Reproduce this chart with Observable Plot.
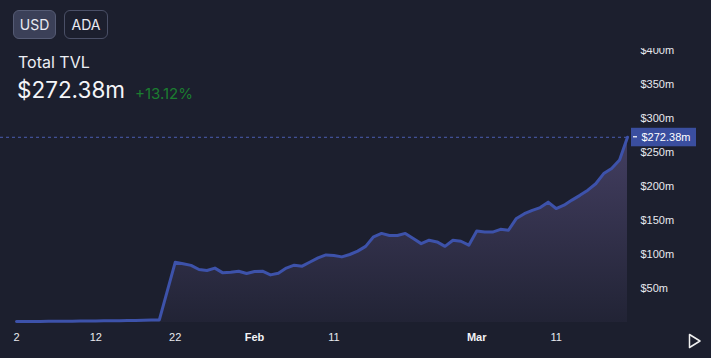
<!DOCTYPE html>
<html>
<head>
<meta charset="utf-8">
<script src="https://cdn.jsdelivr.net/npm/d3@7"></script>
<script src="https://cdn.jsdelivr.net/npm/@observablehq/plot@0.6"></script>
<style>
  html, body { margin: 0; padding: 0; background: #1c1f2e; }
  #wrap { position: relative; width: 711px; height: 358px; overflow: hidden; background: #1c1f2e; font-family: Inter, "Noto Sans", sans-serif; }
  #chart { position: absolute; left: 0; top: 0; }
  .btn { position: absolute; top: 10px; height: 29px; border-radius: 6px; box-sizing: border-box; color: #e9eaf2; font-size: 14px; line-height: 27px; text-align: center; }
  #usd { left: 13px; width: 43px; background: #3b4058; border: 1px solid #555b74; }
  #ada { left: 64px; width: 44px; border: 1px solid #4a4f66; }
  #title { position: absolute; left: 18px; top: 52px; color: #eceef4; font-size: 16px; }
  #value { position: absolute; left: 17px; top: 76px; color: #f4f5f8; font-size: 22.5px; }
  #pct { position: absolute; left: 135px; top: 84px; color: #1b7d30; font-size: 15px; }
  #cover { position: absolute; left: 630px; top: 0; width: 81px; height: 48px; background: #1c1f2e; }
  #play { position: absolute; left: 688px; top: 333px; }
</style>
</head>
<body>
<div id="wrap">
  <div id="chart"></div>
  <div id="cover"></div>
  <div class="btn" id="usd">USD</div>
  <div class="btn" id="ada">ADA</div>
  <div id="title">Total TVL</div>
  <div id="value">$272.38m</div>
  <div id="pct">+13.12%</div>
  <svg id="play" width="14" height="16"><polygon points="1.5,1.5 12,8 1.5,14.5" fill="none" stroke="#f0f0f0" stroke-width="1.5" stroke-linejoin="round"/></svg>
</div>
<script>
// ---- data ----
const dates = [
  "2023-01-02","2023-01-03","2023-01-04","2023-01-05","2023-01-06","2023-01-07","2023-01-08",
  "2023-01-09","2023-01-10","2023-01-11","2023-01-12","2023-01-13","2023-01-14","2023-01-15",
  "2023-01-16","2023-01-17","2023-01-18","2023-01-19","2023-01-20",
  "2023-01-22","2023-01-23","2023-01-24","2023-01-25","2023-01-26","2023-01-27","2023-01-28",
  "2023-01-29","2023-01-30","2023-01-31","2023-02-01","2023-02-02","2023-02-03","2023-02-04",
  "2023-02-05","2023-02-06","2023-02-07","2023-02-08","2023-02-09","2023-02-10","2023-02-11",
  "2023-02-12","2023-02-13","2023-02-14","2023-02-15","2023-02-16","2023-02-17","2023-02-18",
  "2023-02-19","2023-02-20","2023-02-21","2023-02-22","2023-02-23","2023-02-24","2023-02-25",
  "2023-02-26","2023-02-27","2023-02-28","2023-03-01","2023-03-02","2023-03-03","2023-03-04",
  "2023-03-05","2023-03-06","2023-03-07","2023-03-08","2023-03-09","2023-03-10","2023-03-11",
  "2023-03-12","2023-03-13","2023-03-14","2023-03-15","2023-03-16","2023-03-17","2023-03-18",
  "2023-03-19","2023-03-20"
];
const tvl = [
  1.4, 1.5, 1.5, 1.6, 1.7, 1.8, 1.9,
  2.0, 2.1, 2.2, 2.3, 2.4, 2.5, 2.7,
  2.8, 3.0, 3.2, 3.5, 3.8,
  88.5, 86.5, 84, 78, 76.5, 80, 73,
  74, 75.4, 72, 75, 75.4, 70, 72.5,
  80, 84.3, 82.8, 89, 95, 99.4, 98.5,
  96.5, 100, 105, 112, 126, 131, 128,
  128, 131, 123.5, 116, 121, 118.5, 112,
  121, 119.5, 113.7, 134.7, 133, 133, 137,
  135.7, 153, 160, 165, 169, 177, 167.6,
  172.5, 180, 187, 194.6, 204, 219, 226.5,
  239, 272.38
];
const yTicks = [50, 100, 150, 200, 250, 300, 350, 400];
const dayTicks = ["2023-01-02", "2023-01-12", "2023-01-22", "2023-02-11", "2023-03-11"];
const monthTicks = ["2023-02-01", "2023-03-01"];
const currentValue = 272.38;

// ---- build ----
const parse = d3.utcParse("%Y-%m-%d");
const data = dates.map((d, i) => ({date: parse(d), value: tvl[i]}));
const xDomain = [parse(dates[0]), parse(dates[dates.length - 1])];
const textColor = "#e8e9ee";

const chart = Plot.plot({
  width: 711,
  height: 358,
  marginLeft: 0,
  marginRight: 84,
  marginTop: 50,
  marginBottom: 36,
  style: {background: "transparent", color: textColor, fontFamily: "'Liberation Sans', Arial, sans-serif", fontSize: "11px"},
  x: {type: "utc", domain: xDomain, range: [16, 627]},
  y: {domain: [0, 400]},
  marks: [
    Plot.areaY(data, {x: "date", y: "value", fill: "url(#tvlGrad)"}),
    Plot.ruleY([currentValue], {stroke: "#4a5db0", strokeWidth: 1, strokeDasharray: "3,3"}),
    Plot.lineY(data, {x: "date", y: "value", stroke: "#3d52aa", strokeWidth: 3, strokeLinejoin: "round"}),
    Plot.axisY({anchor: "right", ticks: yTicks, tickFormat: d => `$${d}m`, tickSize: 0, tickPadding: 13, label: null, fill: textColor}),
    Plot.axisX({ticks: dayTicks.map(parse), tickFormat: d => String(d.getUTCDate()), tickSize: 0, tickPadding: 11, label: null, fill: textColor}),
    Plot.axisX({ticks: monthTicks.map(parse), tickFormat: d3.utcFormat("%b"), tickSize: 0, tickPadding: 11, label: null, fontWeight: "bold", fill: "#f2f3f6"}),
    Plot.text([currentValue], {y: d => d, frameAnchor: "right", dx: 14, textAnchor: "start", fill: "#ffffff", text: d => `$${d.toFixed(2)}m`})
  ]
});

const svg = d3.select(chart);
const defs = svg.insert("defs", ":first-child");
const grad = defs.append("linearGradient").attr("id", "tvlGrad").attr("x1", 0).attr("y1", 0).attr("x2", 0).attr("y2", 1);
grad.append("stop").attr("offset", "0%").attr("stop-color", "#7a6aa8").attr("stop-opacity", 0.42);
grad.append("stop").attr("offset", "100%").attr("stop-color", "#7a6aa8").attr("stop-opacity", 0.06);

// price tag box behind the last-value text, positioned from the plot's scales
const yScale = chart.scale("y");
const xRight = chart.scale("x").range[1];
const yy = yScale.apply(currentValue);
const textG = svg.selectAll("g[aria-label='text']").node();
const box = document.createElementNS("http://www.w3.org/2000/svg", "rect");
box.setAttribute("x", xRight + 4);
box.setAttribute("y", yy - 9);
box.setAttribute("width", 65);
box.setAttribute("height", 18.5);
box.setAttribute("fill", "#3a4e9f");
chart.insertBefore(box, textG);
const tick = document.createElementNS("http://www.w3.org/2000/svg", "line");
tick.setAttribute("x1", xRight + 6);
tick.setAttribute("x2", xRight + 10);
tick.setAttribute("y1", yy);
tick.setAttribute("y2", yy);
tick.setAttribute("stroke", "#ffffff");
tick.setAttribute("stroke-width", 1.2);
chart.insertBefore(tick, textG);

document.getElementById("chart").appendChild(chart);
</script>
</body>
</html>
